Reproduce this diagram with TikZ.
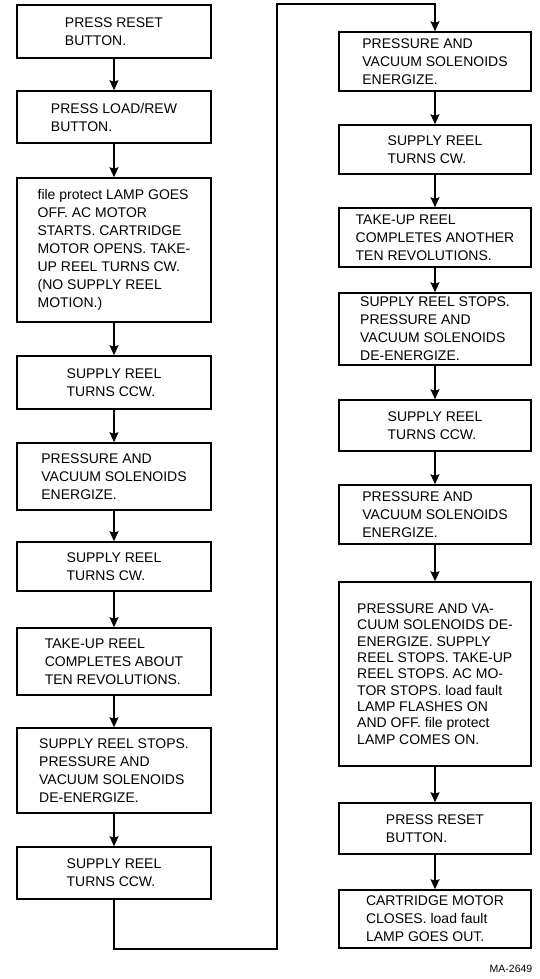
\documentclass[tikz,border=0pt]{standalone}
\usepackage{fontspec}
\setmainfont{Liberation Sans}
\usetikzlibrary{arrows.meta}

\begin{document}
\begin{tikzpicture}[x=1pt, y=-1pt, >={Stealth[length=10pt,width=9pt,inset=1.5pt]},
  line width=1.5pt,
  every node/.style={font=\fontsize{14}{18}\selectfont},
  blk/.style={draw, rectangle, align=left, inner sep=0pt, line width=1.5pt}]
\useasboundingbox (0,0) rectangle (540,979);
% left column
\node[blk,minimum width=194pt,minimum height=53pt] (a1) at (114,31.5) {PRESS RESET\\BUTTON.};
\node[blk,minimum width=194pt,minimum height=52pt] (a2) at (114,117) {PRESS LOAD/REW\\BUTTON.};
\node[blk,minimum width=194pt,minimum height=144pt] (a3) at (114,250) {file protect LAMP GOES\\OFF. AC MOTOR\\STARTS. CARTRIDGE\\MOTOR OPENS. TAKE-\\UP REEL TURNS CW.\\(NO SUPPLY REEL\\MOTION.)};
\node[blk,minimum width=194pt,minimum height=53pt] (a4) at (114,382.5) {SUPPLY REEL\\TURNS CCW.};
\node[blk,minimum width=194pt,minimum height=67pt] (a5) at (114,476.5) {PRESSURE AND\\VACUUM SOLENOIDS\\ENERGIZE.};
\node[blk,minimum width=194pt,minimum height=49pt] (a6) at (114,566.5) {SUPPLY REEL\\TURNS CW.};
\node[blk,minimum width=194pt,minimum height=67pt] (a7) at (114,661.5) {TAKE-UP REEL\\COMPLETES ABOUT\\TEN REVOLUTIONS.};
\node[blk,minimum width=194pt,minimum height=85pt] (a8) at (114,770.5) {SUPPLY REEL STOPS.\\PRESSURE AND\\VACUUM SOLENOIDS\\DE-ENERGIZE.};
\node[blk,minimum width=194pt,minimum height=52pt] (a9) at (114,873) {SUPPLY REEL\\TURNS CCW.};
% right column
\node[blk,minimum width=192pt,minimum height=59pt] (b1) at (435,61.5) {PRESSURE AND\\VACUUM SOLENOIDS\\ENERGIZE.};
\node[blk,minimum width=192pt,minimum height=49pt] (b2) at (435,149.5) {SUPPLY REEL\\TURNS CW.};
\node[blk,minimum width=192pt,minimum height=59pt] (b3) at (435,237.5) {TAKE-UP REEL\\COMPLETES ANOTHER\\TEN REVOLUTIONS.};
\node[blk,minimum width=192pt,minimum height=72pt] (b4) at (435,329) {SUPPLY REEL STOPS.\\PRESSURE AND\\VACUUM SOLENOIDS\\DE-ENERGIZE.};
\node[blk,minimum width=192pt,minimum height=51pt] (b5) at (435,425.5) {SUPPLY REEL\\TURNS CCW.};
\node[blk,minimum width=192pt,minimum height=59pt] (b6) at (435,514.5) {PRESSURE AND\\VACUUM SOLENOIDS\\ENERGIZE.};
\node[blk,minimum width=192pt,minimum height=184pt,font=\fontsize{14}{16.3}\selectfont] (b7) at (435,674) {PRESSURE AND VA-\\CUUM SOLENOIDS DE-\\ENERGIZE. SUPPLY\\REEL STOPS. TAKE-UP\\REEL STOPS. AC MO-\\TOR STOPS. load fault\\LAMP FLASHES ON\\AND OFF. file protect\\LAMP COMES ON.};
\node[blk,minimum width=192pt,minimum height=51pt] (b8) at (435,828.5) {PRESS RESET\\BUTTON.};
\node[blk,minimum width=192pt,minimum height=58pt] (b9) at (435,919) {CARTRIDGE MOTOR\\CLOSES. load fault\\LAMP GOES OUT.};
\node[font=\fontsize{10.5}{11}\selectfont] (ref) at (511,969) {MA-2649};
% connectors
\draw[->] (a1) -- (a2);
\draw[->] (a2) -- (a3);
\draw[->] (a3) -- (a4);
\draw[->] (a4) -- (a5);
\draw[->] (a5) -- (a6);
\draw[->] (a6) -- (a7);
\draw[->] (a7) -- (a8);
\draw[->] (a8) -- (a9);
\coordinate (low) at (277,949);
\coordinate (high) at (277,4);
\draw[->] (a9) |- (low) -- (high) -| (b1);
\draw[->] (b1) -- (b2);
\draw[->] (b2) -- (b3);
\draw[->] (b3) -- (b4);
\draw[->] (b4) -- (b5);
\draw[->] (b5) -- (b6);
\draw[->] (b6) -- (b7);
\draw[->] (b7) -- (b8);
\draw[->] (b8) -- (b9);
\end{tikzpicture}
\end{document}
